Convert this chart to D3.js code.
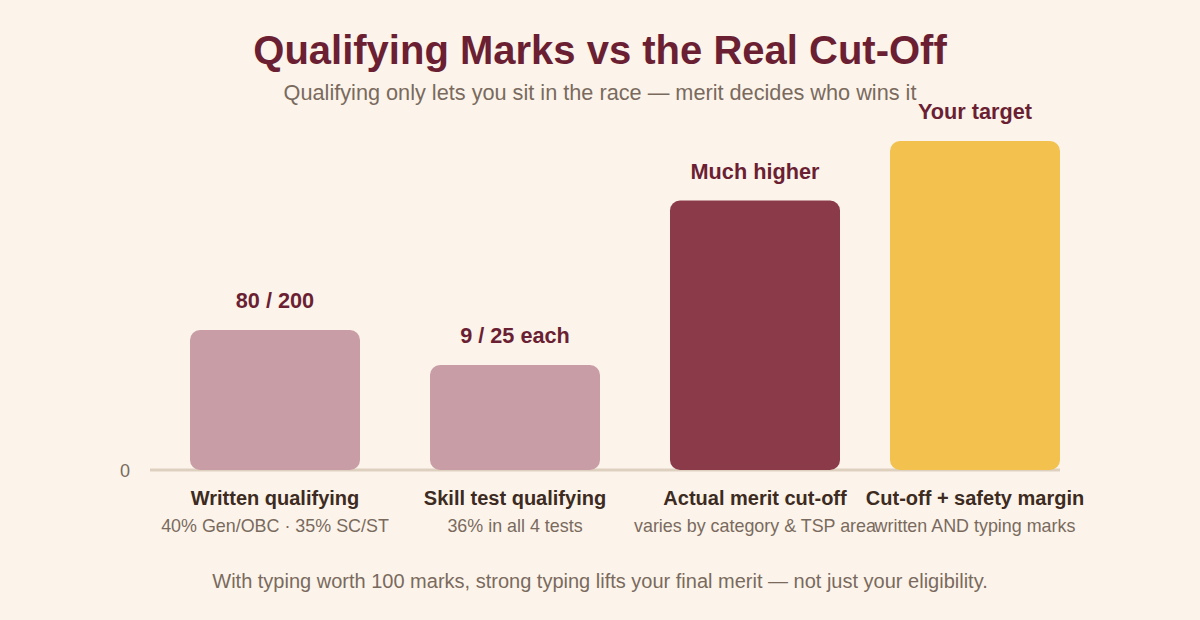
<!DOCTYPE html>
<html>
<head>
<meta charset="utf-8">
<script src="https://cdn.jsdelivr.net/npm/d3@7"></script>
<style>
  body { margin: 0; background: #fcf4ea; }
  svg { display: block; font-family: "Liberation Sans", Arial, sans-serif; }
</style>
</head>
<body>
<div id="chart"></div>
<script>
/* chart data */
var categories = ["Written qualifying", "Skill test qualifying", "Actual merit cut-off", "Cut-off + safety margin"]
var subLabels = ["40% Gen/OBC · 35% SC/ST", "36% in all 4 tests", "varies by category & TSP area", "written AND typing marks"]
var values = [40, 30, 77, 94]
var valueLabels = ["80 / 200", "9 / 25 each", "Much higher", "Your target"]
var barColors = ["#c99da6", "#c99da6", "#8b3a4a", "#f2c14e"]

var width = 1200
    height = 620
    margin = {top: 120, right: 140, bottom: 150, left: 150}
    plotRight = width - margin.right
    baseY = height - margin.bottom
    barW = 170

var svg = d3.select("#chart").append("svg")
    .attr("width", width)
    .attr("height", height)

svg.append("rect")
    .attr("width", width)
    .attr("height", height)
    .attr("fill", "#fcf4ea")

/* scales */
var x = d3.scaleBand()
    .domain(categories)
    .range([190, 1080])
    .paddingInner(70 / 240)
    .paddingOuter(0)
var y = d3.scaleLinear()
    .domain([0, 100])
    .range([baseY, baseY - 350])

// keep the last bar inside the plot
barX = function(d) {
  return Math.min(x(d), plotRight - barW)
}

/* titles */
svg.append("text")
    .attr("x", width / 2)
    .attr("y", 64)
    .attr("text-anchor", "middle")
    .attr("font-size", 40)
    .attr("font-weight", "bold")
    .attr("fill", "#6b1f33")
    .text("Qualifying Marks vs the Real Cut-Off")
svg.append("text")
    .attr("x", width / 2)
    .attr("y", 100)
    .attr("text-anchor", "middle")
    .attr("font-size", 21.7)
    .attr("fill", "#7a6a5e")
    .text("Qualifying only lets you sit in the race — merit decides who wins it")

/* baseline and zero tick */
svg.append("line")
    .attr("x1", margin.left)
    .attr("x2", plotRight)
    .attr("y1", y(0))
    .attr("y2", y(0))
    .attr("stroke", "#ddd0bf")
    .attr("stroke-width", 3)
svg.append("text")
    .attr("x", 130)
    .attr("y", y(0) + 7)
    .attr("text-anchor", "end")
    .attr("font-size", 18)
    .attr("fill", "#7a6a5e")
    .text("0")

/* bars */
var g = svg.selectAll(".bar")
    .data(categories)
    .enter().append("g")
    .attr("class", "bar")

g.append("rect")
    .attr("x", function(d) { return barX(d) })
    .attr("y", function(d, i) { return y(values[i]) })
    .attr("width", barW)
    .attr("height", function(d, i) { return y(0) - y(values[i]) })
    .attr("rx", 10)
    .attr("fill", function(d, i) { return barColors[i] })

g.append("text")
    .attr("x", function(d) { return barX(d) + barW / 2 })
    .attr("y", function(d, i) { return y(values[i]) - 22 })
    .attr("text-anchor", "middle")
    .attr("font-size", 21.7)
    .attr("font-weight", "bold")
    .attr("fill", "#6b1f33")
    .text(function(d, i) { return valueLabels[i] })

g.append("text")
    .attr("x", function(d) { return barX(d) + barW / 2 })
    .attr("y", y(0) + 35)
    .attr("text-anchor", "middle")
    .attr("font-size", 20)
    .attr("font-weight", "bold")
    .attr("fill", "#3d2b22")
    .text(function(d) { return d })

g.append("text")
    .attr("x", function(d) { return barX(d) + barW / 2 })
    .attr("y", y(0) + 62)
    .attr("text-anchor", "middle")
    .attr("font-size", 17.9)
    .attr("fill", "#7a6a5e")
    .text(function(d, i) { return subLabels[i] })

/* footer note */
svg.append("text")
    .attr("x", width / 2)
    .attr("y", 588)
    .attr("text-anchor", "middle")
    .attr("font-size", 20)
    .attr("fill", "#7a6a5e")
    .text("With typing worth 100 marks, strong typing lifts your final merit — not just your eligibility.")
</script>
</body>
</html>
